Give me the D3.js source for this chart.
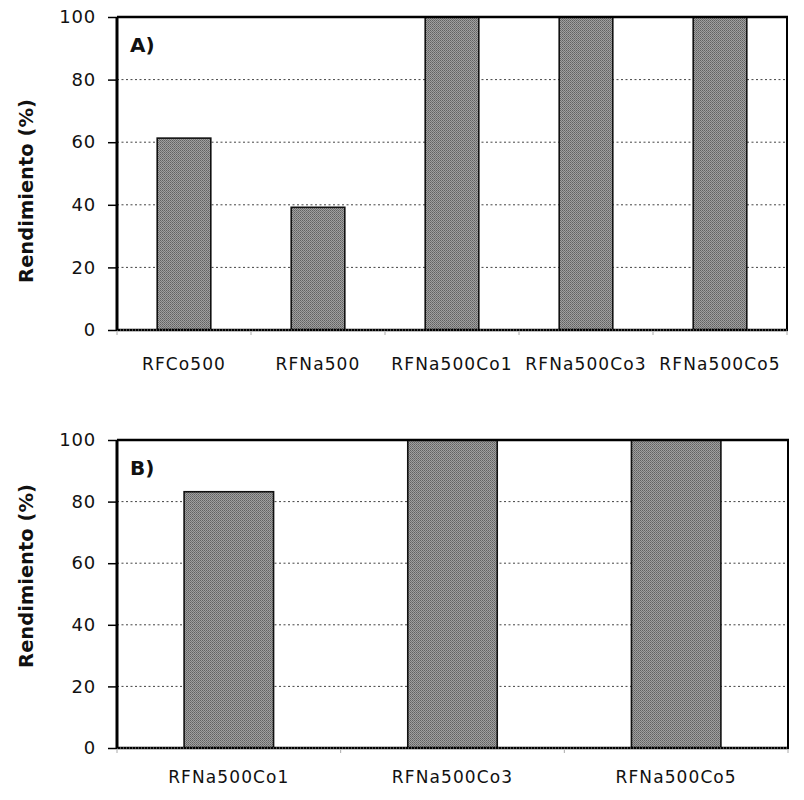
<!DOCTYPE html>
<html>
  <head>
    <meta charset="utf-8">
    <style>
      html, body {
        margin: 0px;
        padding: 0px;
        background: #fff;
      }
      svg {
        display: block;
      }
      text {
        font-family: "DejaVu Sans", sans-serif;
        fill: #111;
      }
    </style>
  </head>
  <body>
    <svg id="chart" width="804" height="800"></svg>
    <script src="https://cdnjs.cloudflare.com/ajax/libs/d3/7.8.5/d3.min.js" charset="utf-8"></script>
    <script>
      const categoriesA = ["RFCo500", "RFNa500", "RFNa500Co1", "RFNa500Co3", "RFNa500Co5"];
      const valuesA = [61.3, 39.2, 100, 100, 100];
      const categoriesB = ["RFNa500Co1", "RFNa500Co3", "RFNa500Co5"];
      const valuesB = [83.2, 100, 100];
      const yTicks = [0, 20, 40, 60, 80, 100];
      const yTitle = "Rendimiento (%)";

      var svg = d3.select('#chart');

      // halftone-ish grey fill like the scanned bars
      var defs = svg.append('defs');
      var pat = defs.append('pattern')
        .attr('id', 'dots')
        .attr('patternUnits', 'userSpaceOnUse')
        .attr('width', 2).attr('height', 2);
      pat.append('rect').attr('width', 2).attr('height', 2).attr('fill', '#a0a0a0');
      pat.append('rect').attr('width', 1).attr('height', 1).attr('fill', '#626262');
      pat.append('rect').attr('x', 1).attr('y', 1).attr('width', 1).attr('height', 1).attr('fill', '#747474');

      function drawPanel(p) {
        var g = svg.append('g');
        var x = d3.scaleBand()
          .domain(p.categories)
          .range([p.left, p.right])
          .paddingInner(0.6)
          .paddingOuter(0.3);
        var step = (p.right - p.left) / p.categories.length;
        var y = d3.scaleLinear().domain([0, 100]).range([p.bottom, p.top]);

        // gridlines
        g.selectAll('.grid')
          .data(yTicks.filter(function(t) { return t > 0 && t < 100; }))
          .enter().append('line')
          .attr('x1', p.left).attr('x2', p.right)
          .attr('y1', function(d) { return y(d); })
          .attr('y2', function(d) { return y(d); })
          .attr('stroke', '#444')
          .attr('stroke-width', 1)
          .attr('stroke-dasharray', '2,2.5');

        // bars
        g.selectAll('.bar')
          .data(p.values)
          .enter().append('rect')
          .attr('x', function(d, i) { return x(p.categories[i]); })
          .attr('width', x.bandwidth())
          .attr('y', function(d) { return y(d); })
          .attr('height', function(d) { return p.bottom - y(d); })
          .attr('fill', 'url(#dots)')
          .attr('stroke', '#111')
          .attr('stroke-width', 1.6);

        // frame: top and right
        g.append('line').attr('x1', p.left).attr('x2', p.right + 1)
          .attr('y1', p.top).attr('y2', p.top)
          .attr('stroke', '#000').attr('stroke-width', 2.5);
        g.append('line').attr('x1', p.right).attr('x2', p.right)
          .attr('y1', p.top).attr('y2', p.bottom)
          .attr('stroke', '#000').attr('stroke-width', 2);

        // zero line (thick, dotted look)
        g.append('line').attr('x1', p.left).attr('x2', p.right + 1)
          .attr('y1', p.bottom).attr('y2', p.bottom)
          .attr('stroke', '#000').attr('stroke-width', 2.5);
        g.append('line').attr('x1', p.left).attr('x2', p.right)
          .attr('y1', p.bottom).attr('y2', p.bottom)
          .attr('stroke', '#999').attr('stroke-width', 1)
          .attr('stroke-dasharray', '1,2');

        // small ticks between categories
        g.selectAll('.xt')
          .data(d3.range(p.categories.length + 1))
          .enter().append('line')
          .attr('x1', function(d) { return p.left + d * step; })
          .attr('x2', function(d) { return p.left + d * step; })
          .attr('y1', p.bottom + 2).attr('y2', p.bottom + 5)
          .attr('stroke', '#aaa').attr('stroke-width', 1);

        // y axis
        var yAxis = d3.axisLeft(y)
          .tickValues(yTicks)
          .tickSize(9)
          .tickPadding(12)
          .tickFormat(d3.format('d'));
        var ya = g.append('g')
          .attr('transform', 'translate(' + p.left + ',0)')
          .call(yAxis);
        ya.select('.domain').attr('stroke', '#000').attr('stroke-width', 3)
          .attr('d', 'M0,' + p.top + 'V' + p.bottom);
        ya.selectAll('.tick line').attr('stroke', '#000').attr('stroke-width', 1.5);
        ya.selectAll('.tick text')
          .style('font-size', '18px')
          .style('letter-spacing', '0.8px')
          .attr('fill', '#111');

        // category labels
        g.selectAll('.xl')
          .data(p.categories)
          .enter().append('text')
          .attr('x', function(d) { return x(d) + x.bandwidth() / 2; })
          .attr('y', p.labelY)
          .attr('text-anchor', 'middle')
          .style('font-size', '17px')
          .style('letter-spacing', '1.1px')
          .text(function(d) { return d; });

        // axis title
        g.append('text')
          .attr('transform', 'translate(33,' + p.titleY + ') rotate(-90)')
          .attr('text-anchor', 'middle')
          .style('font-size', '19.5px')
          .style('font-weight', 'bold')
          .text(yTitle);

        // panel letter
        g.append('text')
          .attr('x', p.left + 13)
          .attr('y', p.top + p.letterDy)
          .style('font-size', '20px')
          .style('font-weight', 'bold')
          .text(p.letter);
      }

      drawPanel({
        categories: categoriesA, values: valuesA, letter: 'A)',
        left: 117, right: 787, top: 17, bottom: 330,
        labelY: 370, titleY: 191, letterDy: 35
      });
      drawPanel({
        categories: categoriesB, values: valuesB, letter: 'B)',
        left: 117, right: 788, top: 440, bottom: 748,
        labelY: 783, titleY: 576, letterDy: 35
      });
    </script>
  </body>
</html>
